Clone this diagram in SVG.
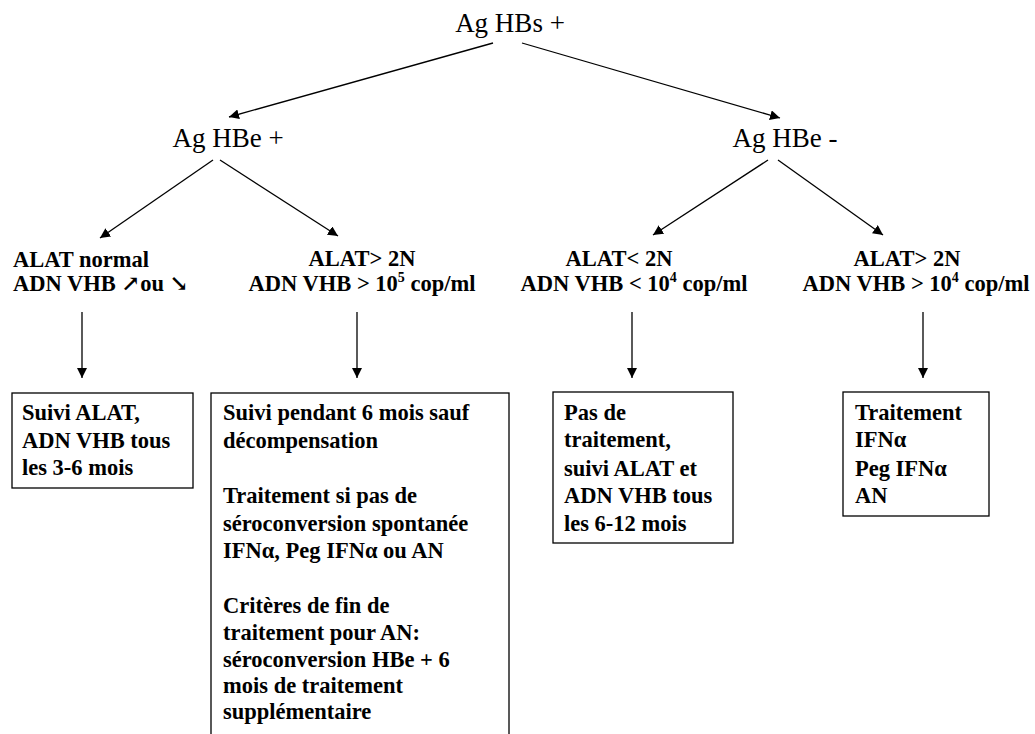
<svg xmlns="http://www.w3.org/2000/svg" width="1035" height="734" viewBox="0 0 1035 734">
<style>
text{fill:#000}
.top{font-size:27px}
.lab{font-size:22.5px;font-weight:bold}
.box{fill:#fff;stroke:#000;stroke-width:1.3}
.con line{stroke:#000;stroke-width:1.3;marker-end:url(#ah)}
</style>
<defs>
<marker id="ah" viewBox="0 0 10 10" refX="10" refY="5" markerWidth="10" markerHeight="10" markerUnits="userSpaceOnUse" orient="auto">
<path d="M0,0 L10,5 L0,10 Z" fill="#000"/>
</marker>
</defs>
<rect width="1035" height="734" fill="#fff"/>
<g id="connectors" class="con">
<line x1="493" y1="43" x2="229" y2="117"/>
<line x1="522" y1="43" x2="780" y2="118"/>
<line x1="213" y1="160" x2="100" y2="238"/>
<line x1="220" y1="160" x2="338" y2="236"/>
<line x1="768" y1="160" x2="653" y2="235"/>
<line x1="778" y1="160" x2="883" y2="235"/>
<line x1="82" y1="312" x2="82" y2="378"/>
<line x1="357" y1="312" x2="357" y2="378"/>
<line x1="632" y1="312" x2="632" y2="378"/>
<line x1="923" y1="312" x2="923" y2="378"/>
</g>
<g font-family="'Liberation Serif', 'Times New Roman', Times, 'DejaVu Serif', serif">
<g id="n-hbs"><text class="top" x="510" y="32" text-anchor="middle">Ag HBs +</text></g>
<g id="n-hbe-pos"><text class="top" x="228" y="147" text-anchor="middle">Ag HBe +</text></g>
<g id="n-hbe-neg"><text class="top" x="785" y="147" text-anchor="middle">Ag HBe -</text></g>
<g id="n-c1">
<text class="lab" x="13" y="267">ALAT normal</text>
<text class="lab" x="13" y="291">ADN VHB ↗ou ↘</text>
</g>
<g id="n-c2">
<text class="lab" x="362" y="266" text-anchor="middle">ALAT&gt; 2N</text>
<text class="lab" x="362" y="291" text-anchor="middle">ADN VHB &gt; 10<tspan font-size="14" dy="-9">5</tspan><tspan dy="9"> cop/ml</tspan></text>
</g>
<g id="n-c3">
<text class="lab" x="619" y="266" text-anchor="middle">ALAT&lt; 2N</text>
<text class="lab" x="634" y="291" text-anchor="middle">ADN VHB &lt; 10<tspan font-size="14" dy="-9">4</tspan><tspan dy="9"> cop/ml</tspan></text>
</g>
<g id="n-c4">
<text class="lab" x="907" y="266" text-anchor="middle">ALAT&gt; 2N</text>
<text class="lab" x="916" y="291" text-anchor="middle">ADN VHB &gt; 10<tspan font-size="14" dy="-9">4</tspan><tspan dy="9"> cop/ml</tspan></text>
</g>
<g id="b1">
<rect class="box" x="12" y="393" width="181" height="95"/>
<text class="lab" x="22" y="420">Suivi ALAT,</text>
<text class="lab" x="22" y="448">ADN VHB tous</text>
<text class="lab" x="22" y="475">les 3-6 mois</text>
</g>
<g id="b2">
<rect class="box" x="211" y="393" width="298" height="350"/>
<text class="lab" x="223" y="420">Suivi pendant 6 mois sauf</text>
<text class="lab" x="223" y="448">décompensation</text>
<text class="lab" x="223" y="503">Traitement si pas de</text>
<text class="lab" x="223" y="531">séroconversion spontanée</text>
<text class="lab" x="223" y="558">IFNα, Peg IFNα ou AN</text>
<text class="lab" x="223" y="613">Critères de fin de</text>
<text class="lab" x="223" y="640">traitement pour AN:</text>
<text class="lab" x="223" y="667">séroconversion HBe + 6</text>
<text class="lab" x="223" y="693">mois de traitement</text>
<text class="lab" x="223" y="719">supplémentaire</text>
</g>
<g id="b3">
<rect class="box" x="553" y="392" width="180" height="151"/>
<text class="lab" x="564" y="420">Pas de</text>
<text class="lab" x="564" y="447">traitement,</text>
<text class="lab" x="564" y="476">suivi ALAT et</text>
<text class="lab" x="564" y="503">ADN VHB tous</text>
<text class="lab" x="564" y="531">les 6-12 mois</text>
</g>
<g id="b4">
<rect class="box" x="843" y="392" width="146" height="124"/>
<text class="lab" x="855" y="420">Traitement</text>
<text class="lab" x="855" y="447">IFNα</text>
<text class="lab" x="855" y="476">Peg IFNα</text>
<text class="lab" x="855" y="503">AN</text>
</g>
</g>
</svg>
